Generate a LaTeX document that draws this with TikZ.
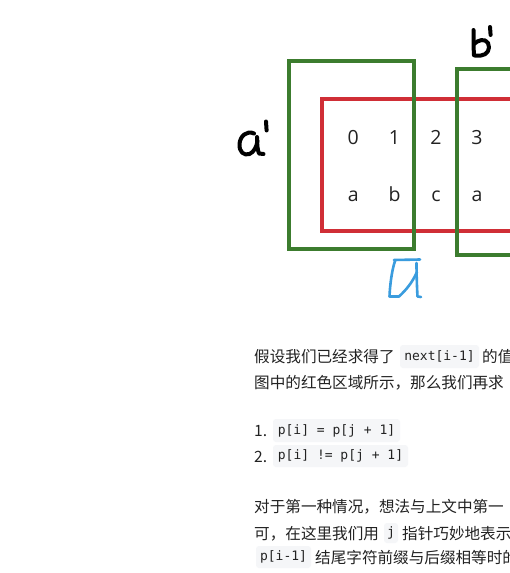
\documentclass[tikz,border=0pt]{standalone}
\usepackage{fontspec}
\setmainfont{Open Sans}
\newfontfamily\cjkfont{Noto Sans CJK SC}
\newfontfamily\codefont{DejaVu Sans Mono}
\definecolor{boxgreen}{RGB}{60,124,46}
\definecolor{boxred}{RGB}{208,46,54}
\definecolor{handblue}{RGB}{58,156,222}
\definecolor{txt}{RGB}{34,34,34}
\definecolor{codebg}{RGB}{245,246,248}
\tikzset{
  gbox/.style={draw=boxgreen,line width=4pt},
  rbox/.style={draw=boxred,line width=4pt},
  cell/.style={font=\fontsize{19.5}{19.5}\selectfont,text=txt,inner sep=0pt,anchor=base},
  para/.style={font=\cjkfont\fontsize{15.6}{15.6}\selectfont,text=txt,inner sep=0pt,anchor=base west},
  codebox/.style={fill=codebg,rounded corners=3pt,inner sep=0pt,text=txt,
    font=\codefont\fontsize{13}{13}\selectfont},
  hand/.style={draw=black,line width=4pt,line cap=round,line join=round},
  bluehand/.style={draw=handblue,line width=2.6pt,line cap=round,line join=round},
}
\begin{document}
\begin{tikzpicture}[x=1pt,y=-1pt]
\useasboundingbox (0,0) rectangle (510,573);
\clip (0,0) rectangle (510,573);
\fill[white] (0,0) rectangle (510,573);
% boxes
\draw[rbox] (321.5,99) rectangle (540,231);
\draw[gbox] (288.5,61) rectangle (414,248.5);
\draw[gbox] (456.5,69) rectangle (560,255);
% cells
\node[cell] (n0) at (353.3,144) {0};
\node[cell] (n1) at (394.5,144) {1};
\node[cell] (n2) at (436,144) {2};
\node[cell] (n3) at (477,144) {3};
\node[cell] (c0) at (353.3,201.5) {a};
\node[cell] (c1) at (394.5,201.5) {b};
\node[cell] (c2) at (436,201.5) {c};
\node[cell] (c3) at (477,201.5) {a};
% handwritten a'
\draw[hand] (254,133.5) .. controls (247,130) and (240,136) .. (239.5,144)
  .. controls (239,152) and (244,156) .. (249.5,154)
  .. controls (254,152) and (256.5,147) .. (257.5,141);
\draw[hand] (257,137) .. controls (257,144) and (257.5,150) .. (259,153.5) -- (263.5,154);
\draw[hand] (266,121.5) -- (266.6,130.5);
% handwritten b'
\draw[hand] (473.5,30) -- (473.8,55);
\draw[hand] (474,44) .. controls (478,40) and (485,38) .. (488,43)
  .. controls (491,49) and (487,55) .. (481,55.5) -- (474.5,55.5);
\draw[hand] (490,27) -- (490.6,35);
% blue hand mark
\draw[bluehand] (394,260) -- (420,259.5);
\draw[bluehand] (395,261) .. controls (392,270) and (390,284) .. (389.5,296.5)
  -- (399,296.5) .. controls (406,290) and (412,283) .. (417,272);
\draw[bluehand] (416.5,263) .. controls (416.5,275) and (417,288) .. (417.5,296.5) -- (421,297);
% paragraph text
\node[para] (t1) at (254,362) {假设我们已经求得了};
\node[codebox,minimum width=79pt,minimum height=23pt] (k1) at (439.5,356.5) {next[i-1]};
\node[para] (t2) at (482,362) {的值};
\node[para] (t3) at (254,388) {图中的红色区域所示，那么我们再求};
\node[para] (l1) at (254,436) {1.};
\node[codebox,minimum width=127pt,minimum height=23pt] (k2) at (336.5,430.5) {p[i] = p[j + 1]};
\node[para] (l2) at (254,462) {2.};
\node[codebox,minimum width=135pt,minimum height=22pt] (k3) at (340.5,456) {p[i] != p[j + 1]};
\node[para] (t4) at (254,512) {对于第一种情况，想法与上文中第一};
\node[para] (t5) at (254,539) {可，在这里我们用};
\node[codebox,minimum width=14pt,minimum height=20pt] (k4) at (391,533) {j};
\node[para] (t6) at (402,539) {指针巧妙地表示};
\node[codebox,minimum width=55pt,minimum height=22pt] (k5) at (283.5,557) {p[i-1]};
\node[para] (t7) at (315,563) {结尾字符前缀与后缀相等时的};
\end{tikzpicture}
\end{document}
